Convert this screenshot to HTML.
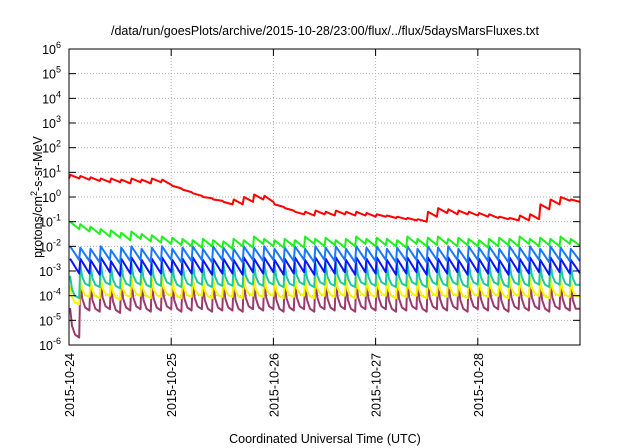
<!DOCTYPE html>
<html><head><meta charset="utf-8"><style>
html,body{margin:0;padding:0;background:#fff;}
svg{display:block;font-family:"Liberation Sans",sans-serif;}
</style></head><body>
<svg id="chart" width="640" height="448" viewBox="0 0 640 448" xmlns="http://www.w3.org/2000/svg">
<text x="325" y="35" font-size="12.5" text-anchor="middle">/data/run/goesPlots/archive/2015-10-28/23:00/flux/../flux/5daysMarsFluxes.txt</text>
<text x="325" y="443" font-size="12.5" text-anchor="middle">Coordinated Universal Time (UTC)</text>
<text transform="translate(42,197) rotate(-90)" font-size="12.5" text-anchor="middle">protons/cm<tspan dy="-5" font-size="9">2</tspan><tspan dy="5">-s-sr-MeV</tspan></text>
<g id="grid"></g><g id="series"></g><g id="axes"></g>
</svg>
<script>
const dayLabels=["2015-10-24","2015-10-25","2015-10-26","2015-10-27","2015-10-28"];
const yExponents=[-6,-5,-4,-3,-2,-1,0,1,2,3,4,5,6];
const redPeaks=[0.9,0.85,0.8,0.75,0.75,0.7,0.75,0.7,0.75,0.7,0.45,0.3,0.15,0.0,-0.1,-0.2,-0.1,0.0,0.1,0.05,-0.3,-0.45,-0.6,-0.6,-0.55,-0.6,-0.55,-0.6,-0.6,-0.65,-0.7,-0.75,-0.8,-0.85,-0.9,-0.6,-0.45,-0.5,-0.55,-0.6,-0.65,-0.7,-0.8,-0.85,-0.75,-0.7,-0.3,-0.1,0.0,-0.1];
const redTroughs=[0.75,0.7,0.65,0.6,0.6,0.55,0.6,0.55,0.6,0.5,0.35,0.2,0.05,-0.05,-0.15,-0.3,-0.3,-0.2,-0.1,-0.2,-0.4,-0.55,-0.7,-0.75,-0.7,-0.75,-0.7,-0.75,-0.75,-0.8,-0.8,-0.85,-0.9,-0.95,-1.0,-0.8,-0.65,-0.7,-0.7,-0.75,-0.8,-0.85,-0.9,-0.95,-0.95,-0.9,-0.5,-0.3,-0.15,-0.2];
const greenPeaks=[-1.0,-1.1,-1.2,-1.3,-1.35,-1.45,-1.4,-1.5,-1.55,-1.6,-1.65,-1.7,-1.75,-1.7,-1.75,-1.8,-1.7,-1.75,-1.6,-1.7,-1.75,-1.7,-1.75,-1.6,-1.7,-1.65,-1.75,-1.7,-1.6,-1.7,-1.65,-1.7,-1.75,-1.6,-1.7,-1.65,-1.6,-1.7,-1.65,-1.7,-1.75,-1.7,-1.65,-1.7,-1.6,-1.7,-1.65,-1.7,-1.6,-1.7];
const blueLightPeaks=[-2.0,-2.05,-2.1,-2.0,-2.15,-2.05,-2.0,-2.1,-2.05,-2.0,-2.1,-2.05,-2.0,-2.1,-2.0,-2.05,-2.1,-2.0,-2.05,-2.0,-2.1,-2.05,-2.0,-2.1,-2.0,-2.05,-2.0,-2.1,-2.0,-2.05,-2.0,-2.1,-2.05,-2.0,-2.1,-2.0,-2.05,-2.0,-2.1,-2.0,-2.05,-2.0,-2.1,-2.0,-2.05,-2.0,-2.1,-2.0,-2.05,-2.1];
const blueDarkPeaks=[-2.5,-2.5,-2.55,-2.45,-2.6,-2.5,-2.45,-2.55,-2.5,-2.45,-2.55,-2.5,-2.45,-2.55,-2.5,-2.5,-2.55,-2.45,-2.5,-2.45,-2.55,-2.5,-2.45,-2.55,-2.45,-2.5,-2.45,-2.55,-2.45,-2.5,-2.45,-2.55,-2.5,-2.45,-2.55,-2.45,-2.5,-2.45,-2.55,-2.45,-2.5,-2.45,-2.55,-2.45,-2.5,-2.45,-2.55,-2.45,-2.5,-2.55];
const tealPeaks=[-3.2,-2.7,-2.75,-2.65,-2.8,-2.7,-2.65,-2.75,-2.7,-2.65,-2.75,-2.7,-2.65,-2.75,-2.7,-2.7,-2.75,-2.65,-2.7,-2.65,-2.75,-2.7,-2.65,-2.75,-2.65,-2.7,-2.65,-2.75,-2.65,-2.7,-2.65,-2.75,-2.7,-2.65,-2.75,-2.65,-2.7,-2.65,-2.75,-2.65,-2.7,-2.65,-2.75,-2.65,-2.7,-2.65,-2.75,-2.65,-2.7,-2.75];
const yellowPeaks=[-3.6,-3.3,-3.35,-3.25,-3.4,-3.3,-3.25,-3.35,-3.3,-3.25,-3.35,-3.3,-3.25,-3.35,-3.3,-3.3,-3.35,-3.25,-3.3,-3.25,-3.35,-3.3,-3.25,-3.35,-3.25,-3.3,-3.25,-3.35,-3.25,-3.3,-3.25,-3.35,-3.3,-3.25,-3.35,-3.25,-3.3,-3.25,-3.35,-3.25,-3.3,-3.25,-3.35,-3.25,-3.3,-3.25,-3.35,-3.25,-3.3,-3.35];
const purplePeaks=[-4.5,-3.4,-3.45,-3.35,-3.5,-3.4,-3.35,-3.45,-3.4,-3.35,-3.45,-3.4,-3.35,-3.45,-3.4,-3.4,-3.45,-3.35,-3.4,-3.35,-3.45,-3.4,-3.35,-3.45,-3.35,-3.4,-3.35,-3.45,-3.35,-3.4,-3.35,-3.45,-3.4,-3.35,-3.45,-3.35,-3.4,-3.35,-3.45,-3.35,-3.4,-3.35,-3.45,-3.35,-3.4,-3.35,-3.45,-3.35,-3.4,-3.45];
const seriesDepths={green:0.3,blueLight:0.55,blueDark:0.6,teal:0.9,yellow:0.75,purple:1.2};

const L=69,R=580,T=49,B=345,NS="http://www.w3.org/2000/svg";
const xScale=h=>L+(R-L)*h/120;
const yScale=lg=>B-(lg+6)*(B-T)/12;
function mk(tag,attrs,parent){const e=document.createElementNS(NS,tag);for(const k in attrs)e.setAttribute(k,attrs[k]);parent.appendChild(e);return e;}
const grid=document.getElementById('grid'),axes=document.getElementById('axes'),ser=document.getElementById('series');
yExponents.forEach(ex=>{const y=yScale(ex);
 if(ex>-6&&ex<6){const g=mk('line',{x1:L,x2:R,y1:y,y2:y,stroke:'#b0b0b0','stroke-dasharray':'1,2','stroke-width':1},grid);
 }
 const t1=mk('line',{x1:L,x2:L+7,y1:y,y2:y,stroke:'#000'},axes);
 const t2=mk('line',{x1:R-7,x2:R,y1:y,y2:y,stroke:'#000'},axes);
 const tx=mk('text',{x:L-8,y:y+5,'font-size':12.5,'text-anchor':'end'},axes);
 
 tx.innerHTML='10<tspan dy="-6" font-size="9">'+ex+'</tspan>';
});
dayLabels.forEach((d,i)=>{const x=xScale(i*24);
 if(i>0){const g=mk('line',{x1:x,x2:x,y1:T,y2:B,stroke:'#b0b0b0','stroke-dasharray':'1,2'},grid);}
 const t1=mk('line',{x1:x,x2:x,y1:B,y2:B-7,stroke:'#000'},axes);
 const t2=mk('line',{x1:x,x2:x,y1:T,y2:T+7,stroke:'#000'},axes);
 const tx=mk('text',{transform:'translate('+(x+5)+','+(B+8)+') rotate(-90)','font-size':12.5,'text-anchor':'end'},axes);
 tx.textContent=d;
});
const fr=mk('rect',{x:L,y:T,width:R-L,height:B-T,fill:'none',stroke:'#000','stroke-width':1},axes);

const P=120/50;
function drawCyclic(peaks,depth,color,name,curved){
 const pts=[];
 peaks.forEach((p,i)=>{const t=i*P;
  if(i>0)pts.push([t,peaks[i-1]-depth]);
  pts.push([t+0.25,p]);
  if(curved){pts.push([t+0.7,p-depth*0.6]);pts.push([t+1.4,p-depth*0.9]);}
 });
 pts.push([120,peaks[peaks.length-1]-depth*0.9]);
 const pl=mk('polyline',{points:pts.map(q=>xScale(Math.min(q[0],120)).toFixed(1)+','+yScale(q[1]).toFixed(1)).join(' '),fill:'none',stroke:color,'stroke-width':2,'stroke-linejoin':'round'},ser);
 
}
drawCyclic(purplePeaks,seriesDepths.purple,'#9b3a6e','series-purple',true);
drawCyclic(yellowPeaks,seriesDepths.yellow,'#f5f500','series-yellow',true);
drawCyclic(tealPeaks,seriesDepths.teal,'#1ec8a0','series-teal',true);
drawCyclic(blueDarkPeaks,seriesDepths.blueDark,'#0a14ff','series-dark-blue',false);
drawCyclic(blueLightPeaks,seriesDepths.blueLight,'#1a78ff','series-light-blue',false);
drawCyclic(greenPeaks,seriesDepths.green,'#1ef01e','series-green',false);
const rp=[];
redPeaks.forEach((p,i)=>{const t=i*P;rp.push([t,i>0?redTroughs[i-1]:redTroughs[0]]);rp.push([t+0.3,p]);});
rp.push([120,redTroughs[redTroughs.length-1]]);
const red=mk('polyline',{points:rp.map(q=>xScale(q[0]).toFixed(1)+','+yScale(q[1]).toFixed(1)).join(' '),fill:'none',stroke:'#ff0000','stroke-width':2,'stroke-linejoin':'round'},ser);

</script>
</body></html>
